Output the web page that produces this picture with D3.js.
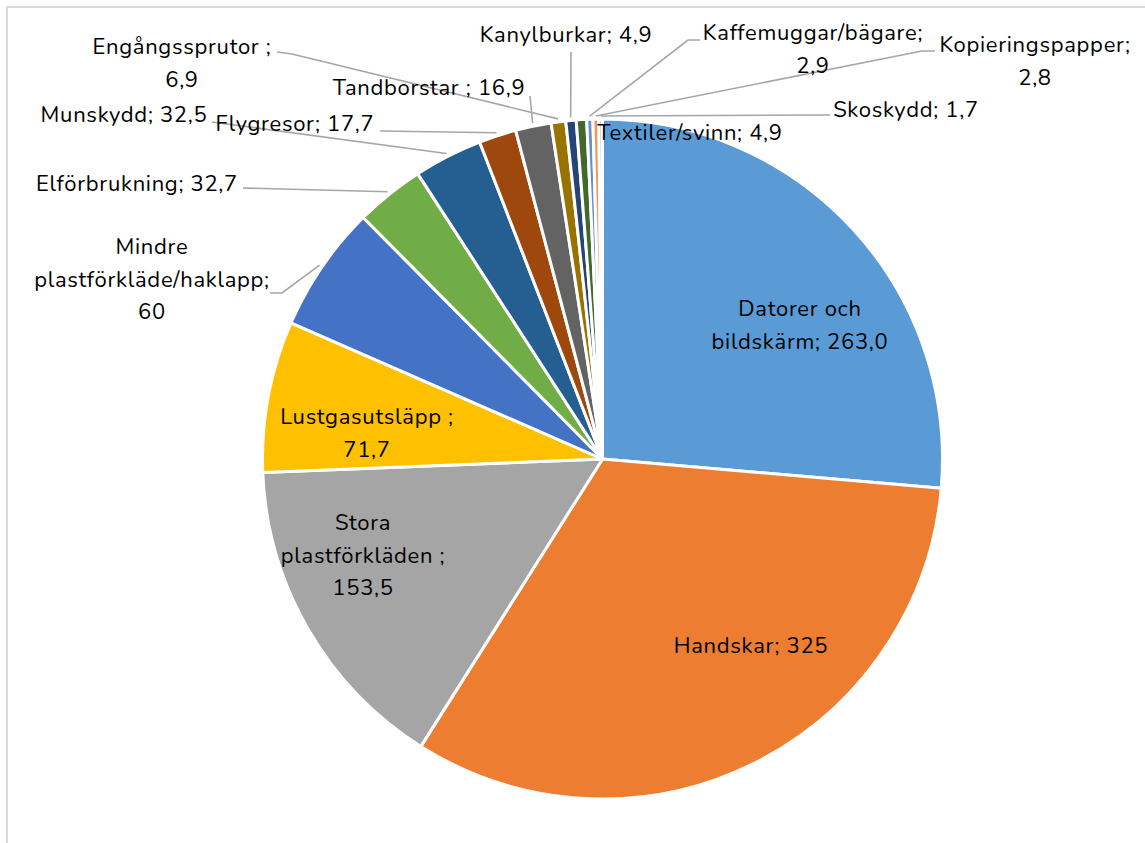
<!DOCTYPE html>
<html>
<head>
<meta charset="utf-8">
<script src="https://cdn.jsdelivr.net/npm/d3@7"></script>
<style>
  body { margin: 0; background: #fff; }
  svg { display: block; font-family: "Nunito", "Open Sans", sans-serif; }
</style>
</head>
<body>
<script>
// DATA

var categories = ["Datorer och bildskärm", "Handskar", "Stora plastförkläden ", "Lustgasutsläpp ",
  "Mindre plastförkläde/haklapp", "Elförbrukning", "Munskydd", "Flygresor", "Tandborstar ",
  "Engångssprutor ", "Kanylburkar", "Textiler/svinn", "Kaffemuggar/bägare", "Kopieringspapper", "Skoskydd"];
var values = [263.0, 325, 153.5, 71.7, 60, 32.7, 32.5, 17.7, 16.9, 6.9, 4.9, 4.9, 2.9, 2.8, 1.7];
var valueLabels = ["263,0", "325", "153,5", "71,7", "60", "32,7", "32,5", "17,7", "16,9", "6,9", "4,9", "4,9", "2,9", "2,8", "1,7"];
var colors = ["#5B9BD5", "#ED7D31", "#A5A5A5", "#FFC000", "#4472C4", "#70AD47", "#255E91", "#9E480E",
  "#636363", "#997300", "#264478", "#43682B", "#698ED0", "#F1975A", "#B7B7B7"];

// LABEL LAYOUT (text lines, centre x, first line y, leader start + elbow)

var labelLayout = [
  {lines: ["Datorer och", "bildskärm; 263,0"], x: 800, y: 309},
  {lines: ["Handskar; 325"], x: 751, y: 646},
  {lines: ["Stora", "plastförkläden ;", "153,5"], x: 363, y: 523},
  {lines: ["Lustgasutsläpp ;", "71,7"], x: 367, y: 417},
  {lines: ["Mindre", "plastförkläde/haklapp;", "60"], x: 152, y: 247, lead: [[270, 293], [282, 293]]},
  {lines: ["Elförbrukning; 32,7"], x: 137, y: 184, lead: [[243, 188]]},
  {lines: ["Munskydd; 32,5"], x: 124, y: 115, lead: [[212, 122]]},
  {lines: ["Flygresor; 17,7"], x: 295, y: 124, lead: [[380, 131]]},
  {lines: ["Tandborstar ; 16,9"], x: 429, y: 88, lead: [[530, 96]]},
  {lines: ["Engångssprutor ;", "6,9"], x: 182, y: 47, lead: [[277, 52], [292, 54]]},
  {lines: ["Kanylburkar; 4,9"], x: 566, y: 35, lead: [[571, 52]]},
  {lines: ["Textiler/svinn; 4,9"], x: 690, y: 133},
  {lines: ["Kaffemuggar/bägare;", "2,9"], x: 813, y: 33, lead: [[700, 40], [688, 40]]},
  {lines: ["Kopieringspapper;", "2,8"], x: 1035, y: 45, lead: [[935, 51], [922, 51]]},
  {lines: ["Skoskydd; 1,7"], x: 906, y: 110, lead: [[830, 115]]}
];

// CHART STRUCTURE

var svgWidth = 1145;
var svgHeight = 843;
var cx = 602.5;
var cy = 459;
var radius = 340;
var lineHeight = 32.5;

var svg = d3.select("body")
  .append("svg")
  .attr("width", svgWidth)
  .attr("height", svgHeight);

svg.append("rect")
  .attr("x", 7)
  .attr("y", 7)
  .attr("width", svgWidth + 20)
  .attr("height", svgHeight + 20)
  .attr("fill", "none")
  .attr("stroke", "#D9D9D9")
  .attr("stroke-width", 2);

var chartGroup = svg.append("g")
  .attr("transform", `translate(${cx}, ${cy})`);

var dataset = categories.map(function (c, i) {
  return {name: c, value: values[i], label: valueLabels[i], color: colors[i], layout: labelLayout[i]};
});

var pie = d3.pie().sort(null).value(d => d.value);
var arc = d3.arc().innerRadius(0).outerRadius(radius);
var arcs = pie(dataset);

// SLICES

chartGroup.selectAll("path.slice")
  .data(arcs)
  .enter()
  .append("path")
  .attr("class", "slice")
  .attr("d", arc)
  .attr("fill", d => d.data.color)
  .attr("stroke", "#fff")
  .attr("stroke-width", 3)
  .attr("stroke-linejoin", "round");

// LEADER LINES

var leaderRadius = radius + 3;
var line = d3.line();

chartGroup.selectAll("path.leader")
  .data(arcs.filter(d => d.data.layout.lead))
  .enter()
  .append("path")
  .attr("class", "leader")
  .attr("d", function (d) {
    var mid = (d.startAngle + d.endAngle) / 2;
    var pts = d.data.layout.lead.map(p => [p[0] - cx, p[1] - cy]);
    pts.push([leaderRadius * Math.sin(mid), -leaderRadius * Math.cos(mid)]);
    return line(pts);
  })
  .attr("fill", "none")
  .attr("stroke", "#A6A6A6")
  .attr("stroke-width", 1.6);

// LABELS

var labels = svg.selectAll("text.lbl")
  .data(dataset)
  .enter()
  .append("text")
  .attr("class", "lbl")
  .attr("text-anchor", "middle")
  .attr("font-size", 22)
  .attr("letter-spacing", 0.7)
  .attr("fill", "#000");

labels.each(function (d) {
  var t = d3.select(this);
  d.layout.lines.forEach(function (txt, j) {
    t.append("tspan")
      .attr("x", d.layout.x)
      .attr("y", d.layout.y + j * lineHeight)
      .attr("dominant-baseline", "central")
      .text(txt);
  });
});
</script>
</body>
</html>
